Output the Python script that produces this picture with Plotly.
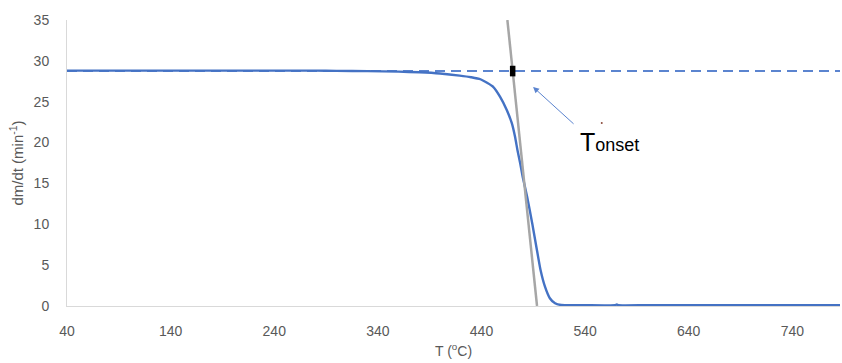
import plotly.graph_objects as go

# Derivative mass-loss curve, dm/dt versus temperature
temp_c = [40, 100, 200, 280, 300, 330, 360, 380, 400, 419, 430, 439, 451.5, 458, 464.4,
          469.2, 472.4, 474.7, 477.3, 479.8, 484, 489, 493.5, 497, 501.2, 506, 511,
          517, 540, 569, 570.6, 572, 600, 700, 786]
dmdt = [28.8, 28.8, 28.8, 28.8, 28.78, 28.74, 28.68, 28.6, 28.45, 28.2, 28.0, 27.75,
        26.8, 25.6, 24.0, 22.4, 20.7, 19.1, 17.5, 15.8, 13.4, 10.1, 6.85, 4.4, 2.4,
        0.95, 0.33, 0.12, 0.1, 0.1, 0.2, 0.1, 0.1, 0.1, 0.1]

# Baseline level (dashed) and inflection tangent (grey)
baseline_level = 28.76
tangent_t = [465.0, 493.6]
tangent_v = [35, 0]

# Onset point where the tangent crosses the baseline
onset_t = 470.1
onset_v = [28.1, 29.4]

x_range = [40, 786]
x_ticks = [40, 140, 240, 340, 440, 540, 640, 740]
y_ticks = [0, 5, 10, 15, 20, 25, 30, 35]

blue = "#4472C4"
grey_txt = "#595959"
font_family = "Liberation Sans, Arial, sans-serif"

fig = go.Figure()

fig.add_trace(go.Scatter(
    x=x_range, y=[baseline_level, baseline_level], mode="lines",
    line=dict(color="#5B84CF", width=2.2, dash="10px,6px"), hoverinfo="skip"))

fig.add_trace(go.Scatter(
    x=temp_c, y=dmdt, mode="lines",
    line=dict(color=blue, width=2.4, shape="spline", smoothing=0.5),
    hoverinfo="skip"))

fig.add_trace(go.Scatter(
    x=tangent_t, y=tangent_v, mode="lines",
    line=dict(color="#A6A6A6", width=2.5), hoverinfo="skip"))

fig.add_trace(go.Scatter(
    x=[onset_t, onset_t], y=onset_v, mode="lines",
    line=dict(color="black", width=5.5), hoverinfo="skip"))

fig.add_trace(go.Scatter(
    x=[556.1], y=[22.4], mode="markers",
    marker=dict(color="#8B4A3A", size=2), hoverinfo="skip"))

# Arrow pointing at the onset
fig.add_annotation(
    x=489.8, y=26.8, xref="x", yref="y",
    ax=44, ay=40, axref="pixel", ayref="pixel",
    text=" ", showarrow=True, arrowhead=2, arrowsize=1.2,
    arrowwidth=1, arrowcolor="#5B84CF")

fig.add_annotation(
    x=533.2, y=20.1, xref="x", yref="y",
    text="T<span style='font-size:18px'>onset</span>",
    showarrow=False, xanchor="left", yanchor="middle",
    font=dict(family=font_family, size=25, color="black"))

fig.update_layout(
    width=842, height=363,
    margin=dict(l=67, r=2, t=20, b=57),
    paper_bgcolor="white", plot_bgcolor="white",
    showlegend=False,
    font=dict(family=font_family, size=14, color=grey_txt),
    xaxis=dict(
        range=x_range, tickmode="array", tickvals=x_ticks,
        showgrid=False, zeroline=False,
        showline=True, linecolor="#D9D9D9", linewidth=1,
        ticks="", ticklabelstandoff=12,
        tickfont=dict(size=14, color=grey_txt),
        title=dict(text="T (<sup>o</sup>C)", standoff=8,
                   font=dict(size=14, color=grey_txt))),
    yaxis=dict(
        range=[0, 35], tickmode="array", tickvals=y_ticks,
        showgrid=False, zeroline=False,
        showline=True, linecolor="#D9D9D9", linewidth=1,
        ticks="", ticklabelstandoff=14,
        tickfont=dict(size=14, color=grey_txt),
        title=dict(text="dm/dt (min<sup>-1</sup>)", standoff=6,
                   font=dict(size=15, color=grey_txt))),
)

fig.write_html("out.html")
